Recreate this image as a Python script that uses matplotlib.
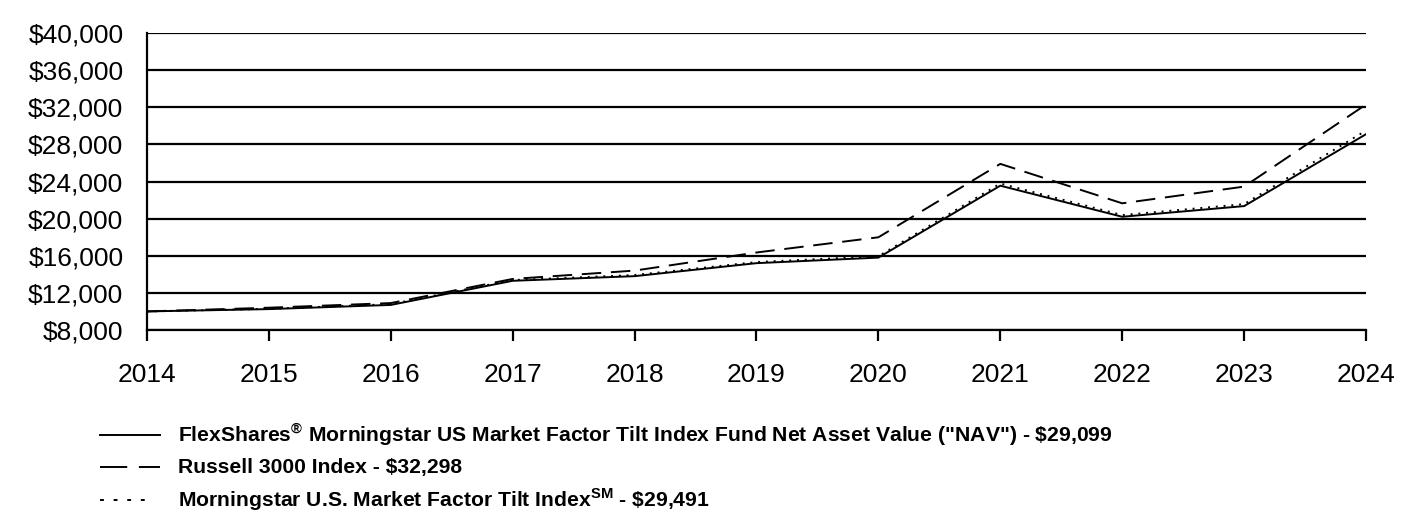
import matplotlib
matplotlib.use("Agg")
import matplotlib.pyplot as plt
from matplotlib.lines import Line2D

plt.rcParams['font.family'] = ['Liberation Sans', 'DejaVu Sans']
plt.rcParams['mathtext.fontset'] = 'custom'
plt.rcParams['mathtext.rm'] = 'Liberation Sans:bold'
plt.rcParams['mathtext.bf'] = 'Liberation Sans:bold'

years = [2014, 2015, 2016, 2017, 2018, 2019, 2020, 2021, 2022, 2023, 2024]
fund_nav = [10000, 10250, 10700, 13300, 13800, 15200, 15800, 23550, 20200, 21350, 29099]
russell_3000 = [10000, 10400, 10900, 13500, 14400, 16350, 17990, 25900, 21650, 23450, 32298]
mstar_index = [10000, 10280, 10780, 13380, 13920, 15320, 15950, 23780, 20380, 21560, 29491]

yticks = [8000, 12000, 16000, 20000, 24000, 28000, 32000, 36000, 40000]
labels = [
    r'FlexShares$^{®}$ Morningstar US Market Factor Tilt Index Fund Net Asset Value ("NAV") - \$29,099',
    'Russell 3000 Index - $32,298',
    r'Morningstar U.S. Market Factor Tilt Index$^{\mathrm{SM}}$ - \$29,491',
]

fig = plt.figure(figsize=(14.16, 5.16), dpi=100)
ax = fig.add_axes([0.1038, 0.3605, 0.8609, 0.5755])

styles = [
    dict(ls='-'),
    dict(ls=(0, (10, 5))),
    dict(ls=(0, (1, 3))),
]
leg_styles = [
    dict(ls='-'),
    dict(ls=(0, (14, 6))),
    dict(ls=(0, (2, 5))),
]
series = [fund_nav, russell_3000, mstar_index]
for s, st in zip(series, styles):
    ax.plot(years, s, color='black', lw=1.4, **st)

ax.set_xlim(2014, 2024)
ax.set_ylim(8000, 40000)
ax.set_xticks(years)
ax.set_yticks(yticks)
ax.set_yticklabels(['${:,}'.format(v) for v in yticks])
ax.grid(axis='y', color='black', lw=1.6)
ax.set_axisbelow(True)
for side in ['top', 'right']:
    ax.spines[side].set_visible(False)
for side in ['left', 'bottom']:
    ax.spines[side].set_linewidth(1.6)
ax.tick_params(axis='x', length=8, width=1.6, pad=16, labelsize=19)
ax.tick_params(axis='y', length=0, pad=17, labelsize=19)

# legend drawn manually
rows_y = [1 - 435 / 516, 1 - 467 / 516, 1 - 500 / 516]
ends = [160, 160, 150]
for y, st, lab, e in zip(rows_y, leg_styles, labels, ends):
    fig.add_artist(Line2D([100 / 1416, e / 1416], [y, y], color='black', lw=1.4,
                          transform=fig.transFigure, **st))
    fig.text(178 / 1416, y, lab, fontsize=15.2, fontweight='bold', va='center', ha='left')

fig.savefig('out.png', dpi=100)
